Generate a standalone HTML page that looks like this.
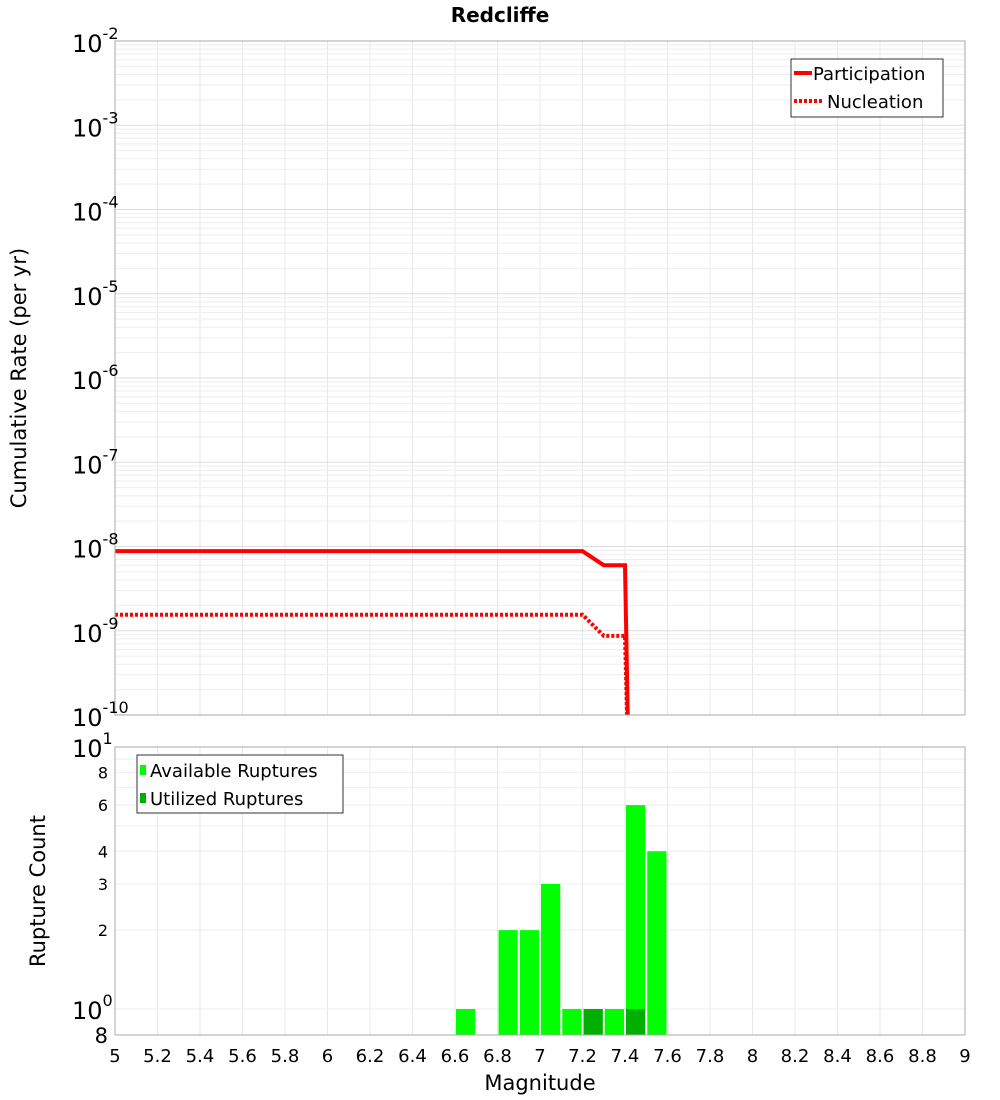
<!DOCTYPE html>
<html><head><meta charset="utf-8"><style>
body{margin:0;background:#fff;}
svg{display:block;font-family:"DejaVu Sans","Liberation Sans",sans-serif;}
</style></head><body>
<svg id="c" width="1000" height="1100" xmlns="http://www.w3.org/2000/svg">
<text x="500" y="22" text-anchor="middle" font-size="20" font-weight="bold">Redcliffe</text>
<g id="grid"></g>
<g id="marks"></g>
<rect x="115" y="41" width="850" height="674" fill="none" stroke="#aaa"/>
<rect x="115" y="747" width="850" height="288" fill="none" stroke="#aaa"/>
<text transform="translate(26,378) rotate(-90)" text-anchor="middle" font-size="21">Cumulative Rate (per yr)</text>
<text transform="translate(45,891) rotate(-90)" text-anchor="middle" font-size="21">Rupture Count</text>
<text x="540" y="1090" text-anchor="middle" font-size="21">Magnitude</text>
<g>
<rect x="791" y="59" width="152" height="58" fill="#fff" stroke="#333"/>
<line x1="794" y1="73" x2="812" y2="73" stroke="#f00" stroke-width="4"/>
<text x="813" y="80" font-size="18">Participation</text>
<line x1="794" y1="101" x2="822" y2="101" stroke="#f00" stroke-width="4" stroke-dasharray="3,2"/>
<text x="827" y="108" font-size="18">Nucleation</text>
</g>
<g>
<rect x="137" y="755" width="206" height="58" fill="#fff" stroke="#333"/>
<rect x="140" y="765" width="6" height="10" fill="#00ff00"/>
<text x="150" y="777" font-size="18">Available Ruptures</text>
<rect x="140" y="793" width="6" height="10" fill="#00b000"/>
<text x="150" y="805" font-size="18">Utilized Ruptures</text>
</g>
</svg>
<script>
const partMag=[5,7.2,7.3,7.4,7.42];
const partRate=[8.8e-9,8.8e-9,6.0e-9,6.0e-9,1e-11];
const nuclMag=[5,7.2,7.3,7.4,7.42];
const nuclRate=[1.55e-9,1.55e-9,8.7e-10,8.7e-10,1e-11];
const binMag=[6.65,6.85,6.95,7.05,7.15,7.25,7.35,7.45,7.55];
const availCount=[1,2,2,3,1,1,1,6,4];
const utilMag=[7.25,7.45];
const utilCount=[1,1];
const xTicks=[5,5.2,5.4,5.6,5.8,6,6.2,6.4,6.6,6.8,7,7.2,7.4,7.6,7.8,8,8.2,8.4,8.6,8.8,9];
const topExps=[-2,-3,-4,-5,-6,-7,-8,-9,-10];
const botTicks=[8,6,4,3,2];

const NS="http://www.w3.org/2000/svg";
const X=m=>115+(m-5)*212.5;
const YT=v=>41+(-2-Math.log10(v))*84.25;
const YB=v=>1009-Math.log10(v)*262;
const grid=document.getElementById('grid'),marks=document.getElementById('marks'),svg=document.getElementById('c');
function mk(t,a,p){const e=document.createElementNS(NS,t);for(const k in a)e.setAttribute(k,a[k]);(p||grid).appendChild(e);return e;}
xTicks.forEach(m=>{
 let l=mk('line',{x1:X(m),x2:X(m),y1:41,y2:715,stroke:'#e8e8e8'});
 
 let l2=mk('line',{x1:X(m),x2:X(m),y1:747,y2:1035,stroke:'#e8e8e8'});
 
 let t=mk('text',{x:X(m),y:1062,'text-anchor':'middle','font-size':18},svg);t.textContent=String(m);
 
});
for(let e=-10;e<-2;e++){for(let k=1;k<10;k++){const v=k*Math.pow(10,e);
 let l=mk('line',{x1:115,x2:965,y1:YT(v),y2:YT(v),stroke:k==1?'#ddd':'#eee'});
 }}
topExps.forEach(e=>{const y=YT(Math.pow(10,e));
 let t=mk('text',{x:72,y:y+11,'font-size':24},svg);
 
 t.innerHTML='10<tspan dy="-13" font-size="16">'+e+'</tspan>';});
for(let v=1;v<=10;v++){let l=mk('line',{x1:115,x2:965,y1:YB(v),y2:YB(v),stroke:'#eee'});
 }
botTicks.forEach(v=>{let t=mk('text',{x:108,y:YB(v)+6,'text-anchor':'end','font-size':16},svg);t.textContent=v;
 });
[[10,'1',747],[1,'0',1009]].forEach(([v,s,y])=>{let t=mk('text',{x:72,y:y+10,'font-size':24},svg);
 
 t.innerHTML='10<tspan dy="-13" font-size="16">'+s+'</tspan>';});
{let t=mk('text',{x:108,y:1043,'text-anchor':'end','font-size':21},svg);t.textContent='8';
 }
const bw=21.25;
binMag.forEach((m,i)=>{let r=mk('rect',{x:X(m)-bw/2+1,y:YB(availCount[i]),width:bw-2,height:1035-YB(availCount[i]),fill:'#00ff00'},marks);
 });
utilMag.forEach((m,i)=>{let r=mk('rect',{x:X(m)-bw/2+1,y:YB(utilCount[i]),width:bw-2,height:1035-YB(utilCount[i]),fill:'#00b000'},marks);
 });
const cp=mk('clipPath',{id:'cp'},svg);
mk('rect',{x:115,y:41,width:850,height:674},cp);
let p1=mk('polyline',{points:partMag.map((m,i)=>X(m)+','+YT(partRate[i])).join(' '),fill:'none',stroke:'#f00','stroke-width':4,'clip-path':'url(#cp)'},marks);

let p2=mk('polyline',{points:nuclMag.map((m,i)=>X(m)+','+YT(nuclRate[i])).join(' '),fill:'none',stroke:'#f00','stroke-width':4,'stroke-dasharray':'3,2','clip-path':'url(#cp)'},marks);

</script>
</body></html>
